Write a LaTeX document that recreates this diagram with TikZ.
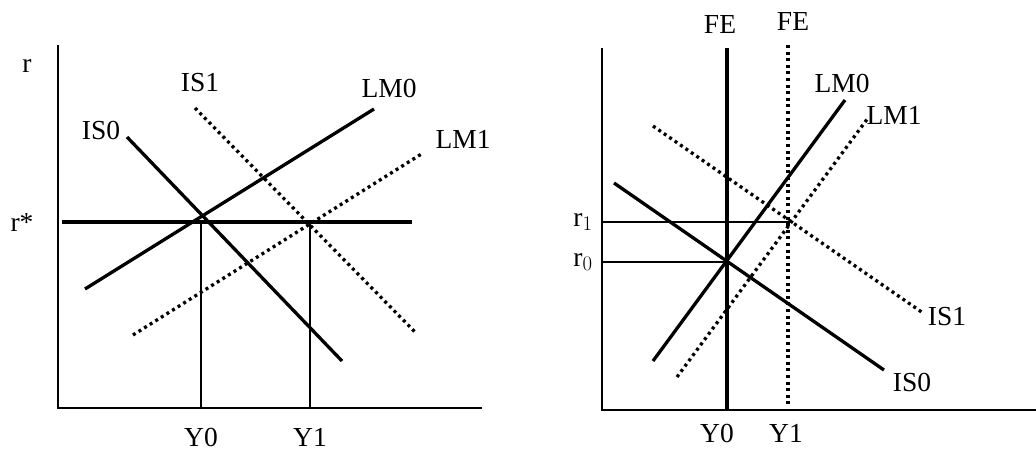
\documentclass[tikz,border=0pt]{standalone}
\usepackage{fontspec}
\setmainfont{Liberation Serif}
\begin{document}
\begin{tikzpicture}[x=1pt,y=-1pt,
  ax/.style={line width=2.8pt},
  curve/.style={line width=3.3pt},
  dotc/.style={line width=3.3pt, dash pattern=on 3pt off 3.6pt},
  thin/.style={line width=1.9pt},
  lbl/.style={inner sep=0pt, font=\fontsize{27.5}{30}\selectfont}]
\useasboundingbox (0,0) rectangle (1036,450);
% ---------- left panel ----------
\coordinate (Lo) at (58,408);
\coordinate (Ltop) at (58,45);
\coordinate (Lend) at (482,408);
\draw[ax] (Ltop) -- (Lo) -- (Lend);
\node[lbl] (r) at (27,66) {r};
\node[lbl] (rs) at (22,222) {r*};
\coordinate (rsA) at (62,222);
\coordinate (rsB) at (412,222);
\draw[curve] (rsA) -- (rsB);
% IS0
\coordinate (is0a) at (127,137);
\coordinate (is0b) at (342,361);
\draw[curve] (is0a) -- (is0b);
\node[lbl] (is0l) at (101,130) {IS0};
% LM0
\coordinate (lm0a) at (85,289);
\coordinate (lm0b) at (374,109);
\draw[curve] (lm0a) -- (lm0b);
\node[lbl] (lm0l) at (389,88) {LM0};
% IS1
\coordinate (is1a) at (195,108);
\coordinate (is1b) at (416,333);
\draw[dotc] (is1a) -- (is1b);
\node[lbl] (is1l) at (200,83) {IS1};
% LM1
\coordinate (lm1a) at (133,335);
\coordinate (lm1b) at (423,153);
\draw[dotc] (lm1a) -- (lm1b);
\node[lbl] (lm1l) at (463,139) {LM1};
% Y lines
\coordinate (y0t) at (201,222);
\coordinate (y0b) at (201,408);
\coordinate (y1t) at (310,222);
\coordinate (y1b) at (310,408);
\draw[thin] (y0t) -- (y0b);
\draw[thin] (y1t) -- (y1b);
\node[lbl] (Y0) at (201,437) {Y0};
\node[lbl] (Y1) at (310,437) {Y1};
% ---------- right panel ----------
\coordinate (Ro) at (602,410);
\coordinate (Rtop) at (602,48);
\coordinate (Rend) at (1036,410);
\draw[ax] (Rtop) -- (Ro) -- (Rend);
% FE solid
\coordinate (fe0t) at (727,48);
\coordinate (fe0b) at (727,410);
\draw[curve] (fe0t) -- (fe0b);
\node[lbl] (fe0l) at (720,24) {FE};
% FE dotted
\coordinate (fe1t) at (788,45);
\coordinate (fe1b) at (788,407);
\draw[dotc] (fe1t) -- (fe1b);
\node[lbl] (fe1l) at (793,21) {FE};
% LM0
\coordinate (rlm0a) at (653,361);
\coordinate (rlm0b) at (845,100);
\draw[curve] (rlm0a) -- (rlm0b);
\node[lbl] (rlm0l) at (842,83) {LM0};
% LM1
\coordinate (rlm1a) at (677,377);
\coordinate (rlm1b) at (868,118);
\draw[dotc] (rlm1a) -- (rlm1b);
\node[lbl] (rlm1l) at (894,115) {LM1};
% IS0
\coordinate (ris0a) at (614,183);
\coordinate (ris0b) at (884,370);
\draw[curve] (ris0a) -- (ris0b);
\node[lbl] (ris0l) at (912,382) {IS0};
% IS1
\coordinate (ris1a) at (653,126);
\coordinate (ris1b) at (923,313);
\draw[dotc] (ris1a) -- (ris1b);
\node[lbl] (ris1l) at (947,317) {IS1};
% r lines
\coordinate (r1a) at (602,222);
\coordinate (r1b) at (790,222);
\coordinate (r0a) at (602,262);
\coordinate (r0b) at (727,262);
\draw[thin] (r1a) -- (r1b);
\draw[thin] (r0a) -- (r0b);
\node[lbl] (r1l) at (583,222) {r$_1$};
\node[lbl] (r0l) at (583,262) {r$_0$};
\node[lbl] (RY0) at (717,433) {Y0};
\node[lbl] (RY1) at (786,433) {Y1};
\end{tikzpicture}
\end{document}
